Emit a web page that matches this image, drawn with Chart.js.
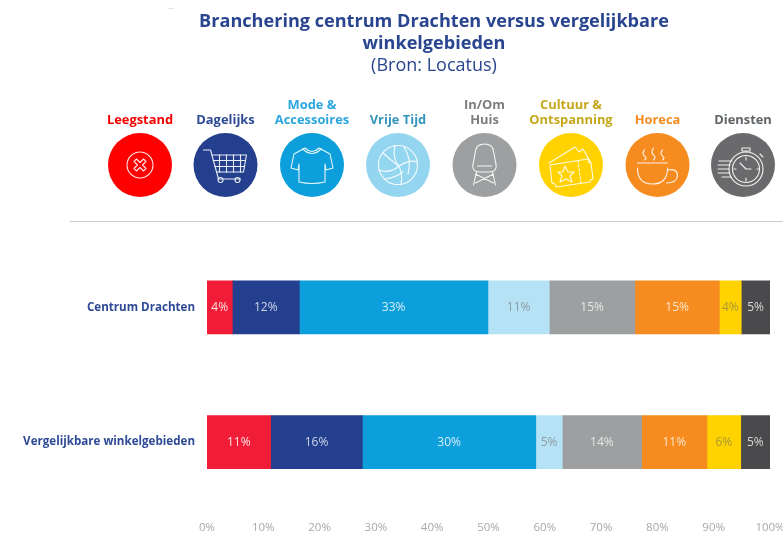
<!DOCTYPE html>
<html lang="nl">
<head>
<meta charset="utf-8">
<title>Branchering centrum Drachten</title>
<script src="https://cdn.jsdelivr.net/npm/chart.js@4"></script>
<style>
  html, body { margin: 0; padding: 0; background: #fff; }
  body { width: 783px; height: 534px; position: relative; overflow: hidden; font-family: "Open Sans", sans-serif; }
  canvas { position: absolute; left: 0; top: 0; }
  #header { position: absolute; left: 0; top: 0; width: 783px; height: 240px; z-index: 2; }
  h1 { position: absolute; left: 134px; top: 8.5px; width: 600px; margin: 0; text-align: center; color: #2a4590; font-size: 18.1px; line-height: 22px; font-weight: 700; }
  h1 span { display: block; font-weight: 400; font-size: 18px; line-height: 22px; }
  .cat { position: absolute; width: 110px; margin-left: -55px; text-align: center; font-size: 12.9px; line-height: 15px; font-weight: 700; bottom: 113.5px; }
  #header svg { position: absolute; left: 0; top: 0; }
  #rule { position: absolute; left: 70px; top: 221px; width: 713px; height: 1px; background: #cbcbcb; }
  #speck { position: absolute; left: 168px; top: 8px; width: 6px; height: 1px; background: #e2e8f0; }
</style>
</head>
<body>
<canvas id="myChart" width="783" height="534"></canvas>
<div id="header">
  <div id="speck"></div>
  <h1>Branchering centrum Drachten versus vergelijkbare<br>winkelgebieden<span>(Bron: Locatus)</span></h1>
  <div id="cats"></div>
  <svg width="783" height="240" fill="none" stroke="#fff" stroke-opacity="0.9" stroke-width="1.1" stroke-linecap="round" stroke-linejoin="round">
    <g id="icons"></g>
  </svg>
  <div id="rule"></div>
</div>

<script>
// Chart data
const rowLabels = ["Centrum Drachten", "Vergelijkbare winkelgebieden"];
const tickValues = [0, 10, 20, 30, 40, 50, 60, 70, 80, 90, 100];

const leegstand = [4.5, 11.3];
const dagelijks = [11.9, 16.3];
const mode = [33.5, 30.8];
const vrijeTijd = [10.9, 4.7];
const inOmHuis = [15.2, 14.1];
const horeca = [15.0, 11.6];
const cultuur = [3.9, 6.0];
const diensten = [5.1, 5.2];

// printed labels (source rounds them its own way)
const leegstandText = ["4%", "11%"];
const dagelijksText = ["12%", "16%"];
const modeText = ["33%", "30%"];
const vrijeTijdText = ["11%", "5%"];
const inOmHuisText = ["15%", "14%"];
const horecaText = ["15%", "11%"];
const cultuurText = ["4%", "6%"];
const dienstenText = ["5%", "5%"];

const datasets = [
  { label: "Leegstand", data: leegstand, texts: leegstandText, backgroundColor: "#f01c38", textColor: "#fde4e4" },
  { label: "Dagelijks", data: dagelijks, texts: dagelijksText, backgroundColor: "#233f8e", textColor: "#cfd6e8" },
  { label: "Mode & Accessoires", data: mode, texts: modeText, backgroundColor: "#0c9fdb", textColor: "#d5eef9" },
  { label: "Vrije Tijd", data: vrijeTijd, texts: vrijeTijdText, backgroundColor: "#b5e2f5", textColor: "#8d9ba5" },
  { label: "In/Om Huis", data: inOmHuis, texts: inOmHuisText, backgroundColor: "#9d9fa0", textColor: "#e6e7e7" },
  { label: "Horeca", data: horeca, texts: horecaText, backgroundColor: "#f68b1f", textColor: "#fde6cc" },
  { label: "Cultuur & Ontspanning", data: cultuur, texts: cultuurText, backgroundColor: "#ffd200", textColor: "#a8983a" },
  { label: "Diensten", data: diensten, texts: dienstenText, backgroundColor: "#4a4a4c", textColor: "#d8d8d8" },
];

// Header categories with their icon
const header = [
  { lines: ["Leegstand"], x: 140, color: "#f50000", fill: "#ff0000", icon: '<circle r="13"/><path d="M-6 -3.5L-3.5 -6L0 -2.5L3.5 -6L6 -3.5L2.5 0L6 3.5L3.5 6L0 2.5L-3.5 6L-6 3.5L-2.5 0Z"/>' },
  { lines: ["Dagelijks"], x: 225.5, color: "#2d4a94", fill: "#233f8e", icon: '<path d="M-22 -15H-15L-7 14H15"/><path d="M-13 -10H21L18 7H-8.500"/><path d="M-12 -4.500H20M-10.500 1.500H19M-6 -10V7M1 -10V7M8 -10V7M15 -10V7"/><circle cx="-5" cy="15" r="2.500"/><circle cx="12" cy="15" r="2.500"/>' },
  { lines: ["Mode &", "Accessoires"], x: 312, color: "#2ba6df", fill: "#0c9fdb", icon: '<path d="M-7 -17L-18 -11L-21 3L-14 5L-13 -1V17Q0 20 13 17V-1L14 5L21 3L18 -11L7 -17Q0 -10 -7 -17Z"/><path d="M-9 -16Q0 -7 9 -16"/>' },
  { lines: ["Vrije Tijd"], x: 398, color: "#3496bd", fill: "#94d6ef", icon: '<circle r="19.500"/><path d="M-3 -19Q-6 -7 1 1Q-8 9 -19 5M1 1Q12 -6 19 -3M1 1Q5 10 3 19M-15 -12Q-5 -3 1 1M6 -18Q14 -6 10 9M-13 14Q-3 13 5 7"/>' },
  { lines: ["In/Om", "Huis"], x: 484.5, color: "#7d7d7f", fill: "#9d9fa0", icon: '<path d="M-11 -3L-9 -14Q-8 -21 0 -21Q8 -21 9 -14L11 -3Q14 7 4 7H-4Q-14 7 -11 -3Z"/><path d="M-7 1H7M-8 7L-11 20M8 7L11 20M-9 9L9 18M9 9L-9 18"/>' },
  { lines: ["Cultuur &", "Ontspanning"], x: 571, color: "#c5a81b", fill: "#ffd200", icon: '<path d="M-22 -2L4 -18L8 -13L12 -16L20 -2"/><path d="M-21 0L17 -6Q17 -2 20 -2L22 14Q19 14 19 17L-15 22Q-15 18 -19 18Z"/><path d="M7 -4L10 19" stroke-dasharray="2 2"/><path d="M-6 1L-3 7L3 7L-1 11L1 17L-5 14L-11 17L-9 11L-13 7L-8 7Z"/>' },
  { lines: ["Horeca"], x: 657.5, color: "#f68b1f", fill: "#f68b1f", icon: '<path d="M-20 -2H10"/><path d="M-20 3Q-20 19 -5 19Q10 19 10 3"/><path d="M10 5Q20 3 20 11Q19 18 9 18"/><path d="M-13 -15Q-16 -12 -13 -9Q-10 -7 -13 -5M-4 -17Q-7 -13 -4 -10Q-1 -8 -4 -5M5 -15Q2 -12 5 -9Q8 -7 5 -5"/>' },
  { lines: ["Diensten"], x: 743, color: "#5f6468", fill: "#6a6a6c", icon: '<circle cx="3" cy="4" r="17"/><circle cx="3" cy="4" r="13.500"/><path d="M-1 -17H7V-14H-1ZM3 -14V-13M17 -11L20 -8M3 4L-3 -2M3 4L8 4M3 -8V-5M3 13V16M14 4H16M-9 4H-7"/><path d="M-24 -4H-11M-25 0H-13M-25 4H-14M-25 8H-14M-21 12H-12"/>' },
];

const iconCenterY = 165;
const iconRadius = 32;

document.getElementById("cats").innerHTML = header
  .map((c) => `<div class="cat" style="left:${c.x}px;color:${c.color}">${c.lines.join("<br>").replace(/&(?!amp)/g, "&amp;")}</div>`)
  .join("");

document.getElementById("icons").innerHTML = header
  .map((c) => `<circle cx="${c.x}" cy="${iconCenterY}" r="${iconRadius}" fill="${c.fill}" stroke="none"/><g transform="translate(${c.x} ${iconCenterY})">${c.icon}</g>`)
  .join("");

// Percentage text inside the bars
const barTextPlugin = {
  id: "barText",
  afterDatasetsDraw(chart) {
    const ctx = chart.ctx;
    ctx.save();
    ctx.font = "12px 'Open Sans'";
    ctx.textAlign = "center";
    ctx.textBaseline = "middle";
    chart.data.datasets.forEach((ds, i) => {
      chart.getDatasetMeta(i).data.forEach((bar, j) => {
        ctx.fillStyle = ds.textColor;
        ctx.fillText(ds.texts[j], (bar.x + bar.base) / 2, bar.y + 0.5);
      });
    });
    ctx.restore();
  },
};

const config = {
  type: "bar",
  data: { labels: rowLabels, datasets: datasets },
  options: {
    indexAxis: "y",
    responsive: false,
    animation: false,
    layout: { padding: { top: 240, right: 13, left: 0, bottom: 0 } },
    datasets: { bar: { barThickness: 53, borderWidth: 0 } },
    plugins: { legend: { display: false }, title: { display: false }, tooltip: { enabled: false } },
    scales: {
      x: {
        stacked: true,
        min: 0,
        max: 100,
        afterBuildTicks(axis) {
          axis.ticks = tickValues.map((v) => ({ value: v }));
        },
        afterFit(axis) {
          axis.height = 24.5;
          axis.paddingRight = 0;
        },
        grid: { display: false },
        border: { display: false },
        ticks: {
          autoSkip: false,
          maxRotation: 0,
          padding: 3,
          color: "#a8a8a8",
          font: { family: "'Open Sans'", size: 11.5 },
          callback: (v) => v + "%",
        },
      },
      y: {
        stacked: true,
        afterFit(axis) {
          axis.width = 207;
        },
        grid: { display: false },
        border: { display: false },
        ticks: {
          padding: 4,
          color: "#2e4a96",
          font: { family: "'Open Sans'", size: 11.6, weight: "700" },
        },
      },
    },
  },
  plugins: [barTextPlugin],
};

new Chart(document.getElementById("myChart"), config);
</script>
</body>
</html>
